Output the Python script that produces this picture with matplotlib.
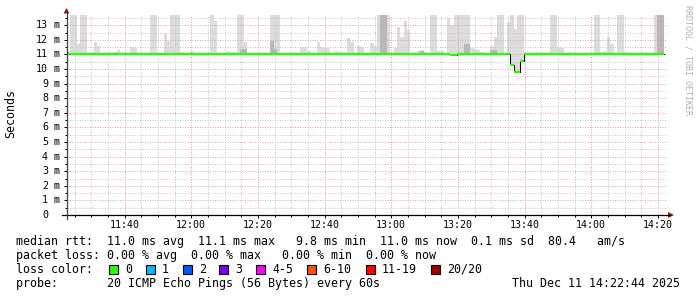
import numpy as np
import matplotlib
matplotlib.use("Agg")
import matplotlib.pyplot as plt
from matplotlib.transforms import Affine2D
from matplotlib.patches import Polygon, Rectangle
from matplotlib.lines import Line2D

W, H = 697, 297
plt.rcParams["font.family"] = "DejaVu Sans Mono"
plt.rcParams["lines.scale_dashes"] = False

# --- data: one ping round per minute, 11:22:44 .. 14:22:44 ---
START_MIN = 22 + 44 / 60          # minutes after 11:00
SPAN_MIN = 180
Y_TOP = 13.7

smoke_top = [
    11.24, 13.7, 13.7, 11.72, 13.7, 13.7, 11.08, 11.0, 11.84, 11.61,
    11.0, 11.0, 11.0, 11.0, 11.15, 11.31, 11.15, 11.0, 11.0, 11.5,
    11.43, 11.0, 11.0, 11.0, 11.0, 13.7, 13.7, 11.0, 11.0, 12.38,
    11.95, 13.7, 13.7, 13.7, 11.15, 11.0, 11.0, 11.24, 11.08, 11.0,
    11.0, 11.0, 11.0, 13.7, 13.3, 11.0, 11.0, 11.05, 11.24, 11.17,
    11.0, 13.7, 13.7, 11.84, 11.08, 11.0, 11.0, 11.0, 11.0, 11.0,
    11.0, 13.7, 13.7, 13.7, 11.08, 11.0, 11.08, 11.08, 11.08, 11.08,
    11.5, 11.5, 11.24, 11.08, 11.0, 11.84, 11.5, 11.45, 11.45, 11.0,
    11.24, 11.15, 11.0, 11.0, 12.11, 11.84, 11.0, 11.61, 11.54, 11.08,
    11.08, 11.77, 11.61, 13.7, 13.7, 13.7, 13.7, 11.0, 11.47, 12.86,
    12.22, 13.32, 12.66, 11.08, 11.08, 11.2, 11.31, 11.15, 11.0, 13.7,
    13.7, 11.24, 11.2, 11.12, 13.5, 13.0, 13.7, 13.7, 13.7, 13.7,
    13.7, 11.47, 11.4, 11.3, 11.15, 11.05, 11.05, 11.6, 12.2, 13.7,
    13.7, 11.0, 13.2, 13.7, 12.72, 13.7, 13.7, 11.08, 11.0, 11.0,
    11.0, 11.08, 11.0, 11.0, 11.0, 13.7, 13.7, 11.54, 11.47, 11.12,
    11.0, 11.0, 11.0, 11.0, 11.0, 11.08, 11.08, 11.0, 13.7, 13.7,
    11.17, 11.24, 12.17, 11.73, 11.0, 13.7, 13.7, 11.0, 11.0, 11.0,
    11.08, 11.08, 11.0, 11.0, 11.0, 11.0, 13.7, 13.7, 13.7, np.nan,
]

# darker inner smoke (most pings high)
dark_idx = [52, 53, 61, 62, 94, 95, 106, 119, 120, 127, 128, 177, 178]
dark_top = [11.4, 11.4, 11.9, 11.4, 13.7, 13.7, 11.2, 11.7, 11.7, 11.3, 11.3, 13.7, 13.7]

median_rtt = [
    11.0, 11.0, 11.0, 11.0, 11.0, 11.0, 11.0, 11.0, 11.0, 11.0,
    11.0, 11.0, 11.0, 11.0, 11.0, 11.0, 11.0, 11.0, 11.0, 11.0,
    11.0, 11.0, 11.0, 11.0, 11.0, 11.0, 11.0, 11.0, 11.0, 11.0,
    11.0, 11.0, 11.0, 11.0, 11.0, 11.0, 11.0, 11.0, 11.0, 11.0,
    11.0, 11.0, 11.0, 11.0, 11.0, 11.0, 11.0, 11.0, 11.0, 11.0,
    11.0, 11.0, 11.0, 11.0, 11.0, 11.0, 11.0, 11.0, 11.0, 11.0,
    11.0, 11.0, 11.0, 11.0, 11.0, 11.0, 11.0, 11.0, 11.0, 11.0,
    11.0, 11.0, 11.0, 11.0, 11.0, 11.0, 11.0, 11.0, 11.0, 11.0,
    11.0, 11.0, 11.0, 11.0, 11.0, 11.0, 11.0, 11.0, 11.0, 11.0,
    11.0, 11.0, 11.0, 11.0, 11.0, 11.0, 11.0, 11.0, 11.0, 11.0,
    11.0, 11.0, 11.0, 11.0, 11.0, 11.0, 11.0, 11.0, 11.0, 11.0,
    11.0, 11.0, 11.0, 11.0, 11.0, 10.95, 10.95, 11.0, 11.0, 11.0,
    11.0, 11.0, 11.0, 11.0, 11.0, 11.0, 11.0, 11.0, 11.0, 11.0,
    11.0, 11.0, 11.0, 10.27, 9.8, 9.8, 10.52, 11.0, 11.0, 11.0,
    11.0, 11.0, 11.0, 11.0, 11.0, 11.0, 11.0, 11.0, 11.0, 11.0,
    11.0, 11.0, 11.0, 11.0, 11.0, 11.0, 11.0, 11.0, 11.0, 11.0,
    11.0, 11.0, 11.0, 11.0, 11.0, 11.0, 11.0, 11.0, 11.0, 11.0,
    11.0, 11.0, 11.0, 11.0, 11.0, 11.0, 11.0, 11.0, 11.0, np.nan,
]

xtick_minutes = [40, 60, 80, 100, 120, 140, 160, 180, 200]
xtick_labels = ["11:40", "12:00", "12:20", "12:40", "13:00", "13:20", "13:40", "14:00", "14:20"]
ytick_values = list(range(0, 14))

loss_labels = ["0", "1", "2", "3", "4-5", "6-10", "11-19", "20/20"]
loss_colors = ["#26ff00", "#00b8ff", "#0059ff", "#7e00ff", "#ff00ff", "#ff5500", "#ff0000", "#a10000"]
loss_box_x = [109, 146, 183, 219, 256, 307, 366, 431]

line_rtt = "median rtt:  11.0 ms avg  11.1 ms max   9.8 ms min  11.0 ms now  0.1 ms sd  80.4   am/s"
line_loss = "packet loss: 0.00 % avg  0.00 % max   0.00 % min  0.00 % now"
line_probe = "probe:       20 ICMP Echo Pings (56 Bytes) every 60s"
stamp = "Thu Dec 11 14:22:44 2025"

SMOKE = "#dcdcdc"
SMOKE_DARK = "#b8b8b8"
MGRID = "#e8a2a2"
GRID = "#c6c6c6"

# --- figure ---
fig = plt.figure(figsize=(W / 100, H / 100), dpi=100)
pxT = Affine2D().scale(1 / W, -1 / H).translate(0, 1) + fig.transFigure

ax = fig.add_axes([67 / W, (H - 215) / H, 600 / W, 200 / H])
ax.set_xlim(START_MIN, START_MIN + SPAN_MIN)
ax.set_ylim(0, Y_TOP)
for s in ax.spines.values():
    s.set_visible(False)

t_left = START_MIN + np.arange(len(smoke_top))
top = np.array(smoke_top)
med = np.array(median_rtt)

ax.bar(t_left, top - med, width=1.0, bottom=med, align="edge",
       color=SMOKE, linewidth=0, zorder=1)
d_idx = np.array(dark_idx)
ax.bar(t_left[d_idx], np.array(dark_top) - med[d_idx], width=1.0, bottom=med[d_idx],
       align="edge", color=SMOKE_DARK, linewidth=0, zorder=1.2)

# grid on top of smoke, like rrdtool (1px dotted)
ax.set_xticks(xtick_minutes)
ax.set_xticks(np.arange(25, 205, 5), minor=True)
ax.set_yticks(ytick_values)
ax.set_yticks(np.arange(0.5, 14, 0.5), minor=True)
ax.set_axisbelow(False)
ax.grid(which="minor", color=GRID, linewidth=0.72, dashes=(0.72, 1.08))
ax.grid(which="major", color=MGRID, linewidth=0.72, dashes=(0.72, 1.08))

ax.set_xticklabels(xtick_labels, fontsize=7.2)
ax.set_yticklabels([])
ax.tick_params(axis="x", which="major", length=2.2, width=0.72, pad=1.2, color="#000000")
ax.tick_params(axis="x", which="minor", length=1.4, width=0.72, color="#000000")
ax.tick_params(axis="y", which="major", length=2.2, width=0.72, color="#000000")
ax.tick_params(axis="y", which="minor", length=1.4, width=0.72, color="#000000")

yt = ax.get_yaxis_transform()
for v in ytick_values:
    ax.text(-19 / 600, v, str(v), transform=yt, ha="right", va="center", fontsize=7.2)
    if v > 0:
        ax.text(-13 / 600, v, "m", transform=yt, ha="left", va="center", fontsize=7.2)

# median line: black steps, loss-coloured level segments
ax.step(t_left, med, where="post", color="#000000", linewidth=0.75, zorder=3)
ax.hlines(med, t_left, t_left + 1, colors=loss_colors[0], linewidth=1.6, zorder=4)

# axes with arrows
fig.add_artist(Line2D([62, 670], [215, 215], transform=pxT, color="#000000", linewidth=0.9))
fig.add_artist(Line2D([66.5, 66.5], [219, 12], transform=pxT, color="#404040", linewidth=0.9))
fig.add_artist(Polygon([[63.5, 13.5], [69.5, 13.5], [66.5, 8]], closed=True,
                       transform=pxT, facecolor="#8b1a1a", edgecolor="none"))
fig.add_artist(Polygon([[668, 212], [668, 218], [674, 215]], closed=True,
                       transform=pxT, facecolor="#8b1a1a", edgecolor="none"))

# labels
fig.text(11, 113, "Seconds", transform=pxT, rotation=90, ha="center", va="center", fontsize=8.4)
fig.text(688, 5, "RRDTOOL / TOBI OETIKER", transform=pxT, rotation=270,
         ha="center", va="top", fontsize=6, color="#b0b0b0")

# legend block
fig.text(16, 245, line_rtt, transform=pxT, ha="left", va="baseline", fontsize=8.4)
fig.text(16, 259, line_loss, transform=pxT, ha="left", va="baseline", fontsize=8.4)
fig.text(16, 273, "loss color:", transform=pxT, ha="left", va="baseline", fontsize=8.4)
for bx, lab, col in zip(loss_box_x, loss_labels, loss_colors):
    fig.add_artist(Rectangle((bx, 264.5), 9, 9, transform=pxT, facecolor=col,
                             edgecolor="#000000", linewidth=0.8))
    fig.text(bx + 16, 273, lab, transform=pxT, ha="left", va="baseline", fontsize=8.4)
fig.text(16, 287, line_probe, transform=pxT, ha="left", va="baseline", fontsize=8.4)
fig.text(680, 287, stamp, transform=pxT, ha="right", va="baseline", fontsize=8.4)

fig.savefig("out.png", dpi=100, facecolor="white")
